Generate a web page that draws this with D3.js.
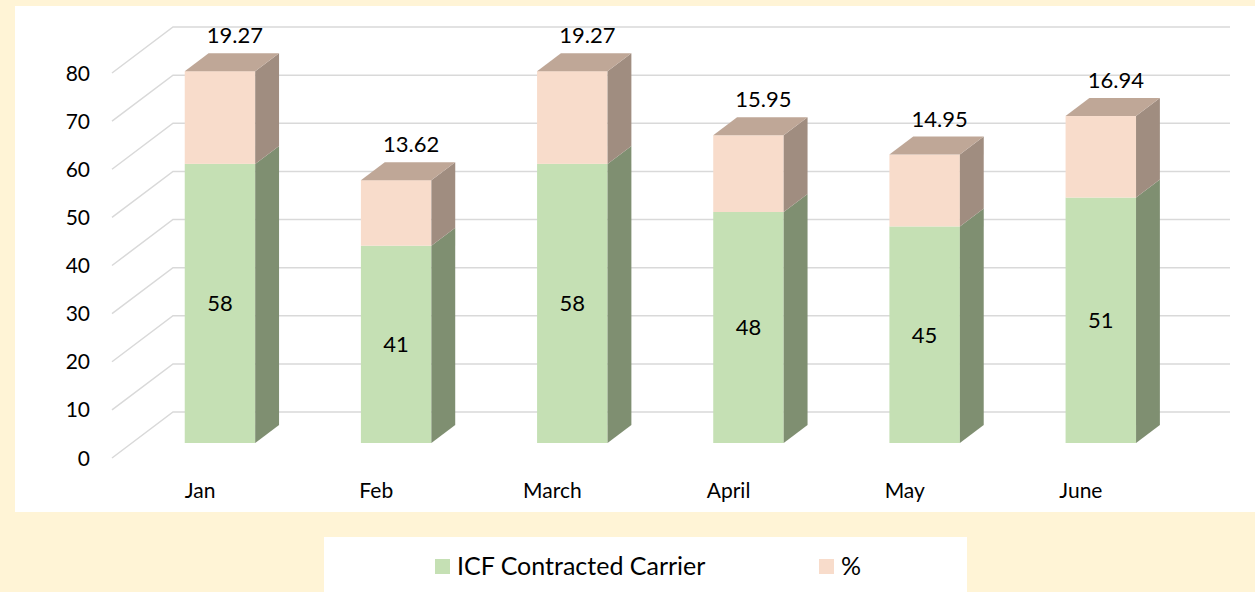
<!DOCTYPE html>
<html>
<head>
<meta charset="utf-8">
<script src="https://cdn.jsdelivr.net/npm/d3@7"></script>
<style>
  html, body { margin: 0; padding: 0; background: #FFF4D6; }
  svg { display: block; font-family: Lato, "Open Sans", sans-serif; }
</style>
</head>
<body>
<div id="chart"></div>
<script>
// data
var months = ["Jan", "Feb", "March", "April", "May", "June"];
var carrier = [58, 41, 58, 48, 45, 51];
var percent = [19.27, 13.62, 19.27, 15.95, 14.95, 16.94];
var yTicks = [0, 10, 20, 30, 40, 50, 60, 70, 80];
var seriesNames = ["ICF Contracted Carrier", "%"];

var width = 1255, height = 592;

var svg = d3.select("#chart")
    .append("svg")
    .attr("width", width)
    .attr("height", height);

// white plot card + legend card
svg.append("rect").attr("x", 15).attr("y", 6).attr("width", 1240).attr("height", 506).attr("fill", "#ffffff");
svg.append("rect").attr("x", 324).attr("y", 537).attr("width", 643).attr("height", 60).attr("fill", "#ffffff");

// fake 3d: front plane + depth vector to the back wall
var depthX = 61, depthY = 46;
var barFront = 0.326, barBack = 0.717;   // bar sits between these depths

var y = d3.scaleLinear().domain([0, 80]).range([458, 73]);
var x = d3.scaleBand().domain(months).range([112, 1169])
    .paddingInner(0.6).paddingOuter(0.3);

function px(xf, t) { return xf + depthX * t; }
function py(v, t) { return y(v) - depthY * t; }

// gridlines: floor-to-wall diagonal then along back wall
var grid = svg.append("g");
yTicks.forEach(function(v) {
    grid.append("path")
        .attr("d", "M" + x.range()[0] + "," + y(v) +
                   "L" + px(x.range()[0], 1) + "," + py(v, 1) +
                   "L" + px(x.range()[1], 1) + "," + py(v, 1))
        .attr("fill", "none")
        .attr("stroke", "#d9d9d9")
        .attr("stroke-width", 1.5);
    svg.append("text")
        .attr("x", 90)
        .attr("y", y(v))
        .attr("dy", "0.36em")
        .attr("text-anchor", "end")
        .style("font-size", "21px")
        .attr("fill", "#000")
        .text(v);
});

var colors = {
    green: { front: "#C5E0B4", side: "#7F8F71", top: "#9CB38C" },
    pink:  { front: "#F8DCCB", side: "#A08D80", top: "#BFA797" }
};

function drawBlock(g, m, v0, v1, c, withTop) {
    var x0 = px(x(m), barFront), x1 = x0 + x.bandwidth();
    var yb = py(v0, barFront), yt = py(v1, barFront);
    var ddx = depthX * (barBack - barFront), ddy = depthY * (barBack - barFront);
    g.append("rect")
        .attr("x", x0).attr("y", yt)
        .attr("width", x1 - x0).attr("height", yb - yt)
        .attr("fill", c.front);
    g.append("path")
        .attr("d", "M" + x1 + "," + yb + "L" + (x1 + ddx) + "," + (yb - ddy) +
                   "L" + (x1 + ddx) + "," + (yt - ddy) + "L" + x1 + "," + yt + "Z")
        .attr("fill", c.side);
    if (withTop) {
        g.append("path")
            .attr("d", "M" + x0 + "," + yt + "L" + x1 + "," + yt +
                       "L" + (x1 + ddx) + "," + (yt - ddy) + "L" + (x0 + ddx) + "," + (yt - ddy) + "Z")
            .attr("fill", c.top);
    }
}

var bars = svg.append("g");
months.forEach(function(m, i) {
    var g = bars.append("g");
    drawBlock(g, m, 0, carrier[i], colors.green, false);
    drawBlock(g, m, carrier[i], carrier[i] + percent[i], colors.pink, true);

    var cx = px(x(m), barFront) + x.bandwidth() / 2;
    g.append("text")
        .attr("x", cx)
        .attr("y", py(carrier[i] / 2, barFront))
        .attr("dy", "0.36em")
        .attr("text-anchor", "middle")
        .style("font-size", "22px")
        .text(carrier[i]);
    g.append("text")
        .attr("x", cx + 15)
        .attr("y", py(carrier[i] + percent[i], barBack) - 10)
        .attr("text-anchor", "middle")
        .style("font-size", "22px")
        .text(percent[i]);
});

// category labels on the front floor edge
months.forEach(function(m) {
    svg.append("text")
        .attr("x", x(m) + x.bandwidth() / 2)
        .attr("y", 498)
        .attr("text-anchor", "middle")
        .style("font-size", "21px")
        .text(m);
});

// legend
var legend = svg.append("g");
var legendX = [435, 819];
var legendFill = [colors.green.front, colors.pink.front];
seriesNames.forEach(function(name, i) {
    legend.append("rect")
        .attr("x", legendX[i]).attr("y", 559)
        .attr("width", 15).attr("height", 15)
        .attr("fill", legendFill[i]);
    legend.append("text")
        .attr("x", legendX[i] + 22)
        .attr("y", 575)
        .style("font-size", "25px")
        .text(name);
});
</script>
</body>
</html>
